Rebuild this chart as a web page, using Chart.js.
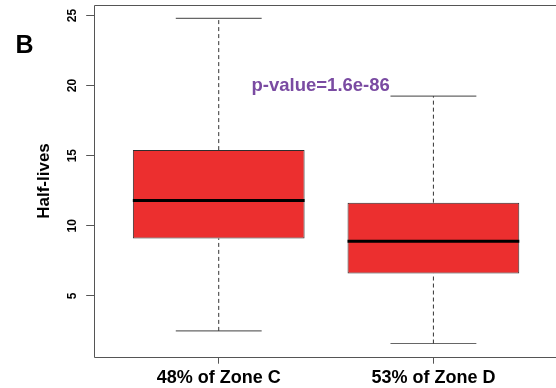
<!DOCTYPE html>
<html>
<head>
<meta charset="utf-8">
<script src="https://cdn.jsdelivr.net/npm/chart.js@4/dist/chart.umd.min.js"></script>
<style>
  html, body { margin: 0; padding: 0; background: #fff; overflow: hidden; }
  #wrap { position: relative; width: 556px; height: 388px; }
</style>
</head>
<body>
<div id="wrap"><canvas id="c"></canvas></div>
<script>
// Half-life distributions for the two zones (box-and-whisker summaries)
const categories = ['48% of Zone C', '53% of Zone D'];
const whiskerLow = [2.5, 1.6];
const quartile1  = [9.1, 6.6];
const medians    = [11.8, 8.9];
const quartile3  = [15.4, 11.65];
const whiskerHigh = [24.8, 19.25];
const yTicks = [5, 10, 15, 20, 25];
const pValueText = 'p-value=1.6e-86';

const BOX_HALF = 0.4;     // half box width in category units
const CAP_HALF = 0.2;     // half whisker-cap width
const AXIS_GRAY = '#555555';
const FONT = '"Liberation Sans", Arial, Helvetica, sans-serif';

const seg = (x1, y1, x2, y2) => [{ x: x1, y: y1 }, { x: x2, y: y2 }];

const datasets = [{
  type: 'bar',
  order: 2,
  data: categories.map((c, i) => ({ x: i + 1, y: [quartile1[i], quartile3[i]] })),
  backgroundColor: '#EC2F2F',
  borderColor: '#2e2e2e',
  borderWidth: 1,
  borderSkipped: false,
  barPercentage: 0.8,
  categoryPercentage: 1.0
}];

const lineBase = { type: 'line', order: 1, pointRadius: 0, fill: false, tension: 0, borderCapStyle: 'butt' };

categories.forEach((c, i) => {
  const x = i + 1;
  // dashed whiskers
  datasets.push({ ...lineBase, data: seg(x, quartile3[i], x, whiskerHigh[i]), borderColor: '#333333', borderWidth: 1, borderDash: [4, 3] });
  datasets.push({ ...lineBase, data: seg(x, whiskerLow[i], x, quartile1[i]), borderColor: '#333333', borderWidth: 1, borderDash: [4, 3] });
  // caps
  datasets.push({ ...lineBase, data: seg(x - CAP_HALF, whiskerHigh[i], x + CAP_HALF, whiskerHigh[i]), borderColor: '#666666', borderWidth: 1.2 });
  datasets.push({ ...lineBase, data: seg(x - CAP_HALF, whiskerLow[i], x + CAP_HALF, whiskerLow[i]), borderColor: '#666666', borderWidth: 1.2 });
  // median
  datasets.push({ ...lineBase, data: seg(x - BOX_HALF, medians[i], x + BOX_HALF, medians[i]), borderColor: '#000000', borderWidth: 3 });
});

const decorations = {
  id: 'decorations',
  afterDraw(chart) {
    const { ctx, chartArea: a, scales } = chart;
    ctx.save();
    // plot frame: left, top and bottom sides (the right side runs off the edge)
    const l = Math.round(a.left) + 0.5, t = Math.round(a.top) + 0.5, b = Math.round(a.bottom) + 0.5;
    ctx.strokeStyle = AXIS_GRAY;
    ctx.lineWidth = 1;
    ctx.beginPath();
    ctx.moveTo(chart.width + 2, t);
    ctx.lineTo(l, t);
    ctx.lineTo(l, b);
    ctx.lineTo(chart.width + 2, b);
    ctx.stroke();
    // panel letter
    ctx.fillStyle = '#000';
    ctx.font = 'bold 25px ' + FONT;
    ctx.textAlign = 'center';
    ctx.textBaseline = 'middle';
    ctx.fillText('B', 24.5, 46);
    // test annotation
    ctx.fillStyle = '#7A4BA2';
    ctx.font = 'bold 18.5px ' + FONT;
    ctx.fillText(pValueText, scales.x.getPixelForValue(1.475), scales.y.getPixelForValue(20.0));
    ctx.restore();
  }
};

new Chart(document.getElementById('c'), {
  data: { datasets },
  options: {
    responsive: true,
    maintainAspectRatio: false,
    devicePixelRatio: 1,
    animation: false,
    layout: { padding: { top: 5.3, right: 0, left: 0, bottom: 0 } },
    plugins: { legend: { display: false }, tooltip: { enabled: false } },
    scales: {
      x: {
        type: 'linear',
        min: 0.42,
        max: 2.571,
        offset: false,
        afterBuildTicks: s => { s.ticks = categories.map((c, i) => ({ value: i + 1 })); },
        afterFit: s => { s.height = 31.3; s.paddingLeft = 0; s.paddingRight = 0; },
        grid: { display: true, offset: false, drawOnChartArea: false, drawTicks: true, tickLength: 7, color: AXIS_GRAY },
        border: { display: false },
        ticks: {
          autoSkip: false,
          maxRotation: 0,
          padding: 4,
          color: '#000',
          font: { family: FONT, size: 18, weight: 'bold' },
          callback: v => categories[Math.round(v) - 1] || ''
        }
      },
      y: {
        type: 'linear',
        min: 0.66,
        max: 25.73,
        afterBuildTicks: s => { s.ticks = yTicks.map(v => ({ value: v })); },
        afterFit: s => { s.width = 94.2; s.paddingTop = 0; s.paddingBottom = 0; },
        grid: { display: true, drawOnChartArea: false, drawTicks: true, tickLength: 8, color: AXIS_GRAY },
        border: { display: false },
        title: {
          display: true,
          text: 'Half-lives',
          color: '#000',
          font: { family: FONT, size: 17, weight: 'bold' },
          padding: { top: 34, bottom: 0 }
        },
        ticks: {
          minRotation: 90,
          maxRotation: 90,
          crossAlign: 'center',
          padding: 7,
          color: '#000',
          font: { family: FONT, size: 12, weight: 'bold' }
        }
      }
    }
  },
  plugins: [decorations]
});
</script>
</body>
</html>
